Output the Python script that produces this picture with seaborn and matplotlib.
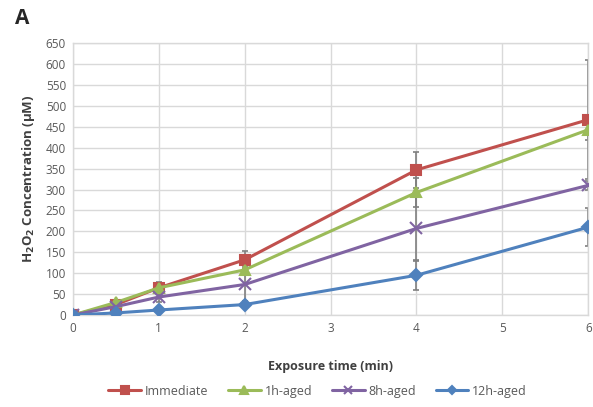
import numpy as np
import pandas as pd
import matplotlib
matplotlib.use("Agg")
import matplotlib.pyplot as plt
import seaborn as sns

# ---- data ----
time_min = [0, 0.5, 1, 2, 4, 6]
immediate = [0, 25, 65, 132, 347, 467]
aged_1h = [0, 30, 65, 108, 293, 443]
aged_8h = [0, 20, 43, 73, 207, 310]
aged_12h = [0, 5, 12, 25, 95, 210]

err_immediate = [0, 8, 15, 22, 43, 143]
err_1h = [0, 5, 10, 10, 35, 25]
err_8h = [0, 5, 12, 40, 75, 10]
err_12h = [0, 3, 5, 8, 35, 45]

series_names = ["Immediate", "1h-aged", "8h-aged", "12h-aged"]
y_ticks = list(range(0, 651, 50))
x_ticks = [0, 1, 2, 3, 4, 5, 6]

values = [immediate, aged_1h, aged_8h, aged_12h]
errors = [err_immediate, err_1h, err_8h, err_12h]
colors = ["#C0504D", "#9BBB59", "#8064A2", "#4F81BD"]
markers = ["s", "^", "x", "D"]
msizes = [7, 7, 8, 6]

sns.set_theme(style="white")
plt.rcParams["font.family"] = ["Open Sans", "DejaVu Sans"]

rows = []
for name, vals in zip(series_names, values):
    for t, v in zip(time_min, vals):
        rows.append({"time": t, "conc": v, "series": name})
df = pd.DataFrame(rows)

fig = plt.figure(figsize=(5.93, 4.07), dpi=100)
ax = fig.add_axes([0.123, 0.226, 0.869, 0.668])

# error bars first (gray)
for vals, errs in zip(values, errors):
    ax.errorbar(time_min, vals, yerr=errs, fmt="none", ecolor="#7F7F7F",
                elinewidth=1.2, capsize=2.5, capthick=1.2, zorder=2)

for name, c, m, ms in zip(series_names, colors, markers, msizes):
    sub = df[df["series"] == name]
    sns.lineplot(data=sub, x="time", y="conc", ax=ax, color=c, marker=m,
                 markersize=ms, markeredgecolor=c, markeredgewidth=1.5,
                 linewidth=2.2, label=name, zorder=3, errorbar=None)

ax.set_xlim(0, 6)
ax.set_ylim(0, 650)
ax.set_xticks(x_ticks)
ax.set_yticks(y_ticks)
ax.grid(True, color="#D9D9D9", linewidth=1)
ax.set_axisbelow(True)
for s in ax.spines.values():
    s.set_color("#D9D9D9")
    s.set_linewidth(1)
ax.tick_params(axis="both", colors="#595959", labelsize=8.5, length=0, pad=5)

ax.set_xlabel("Exposure time (min)", fontsize=9, fontweight="bold", color="#404040", labelpad=18)
ax.set_ylabel(r"H$_\mathbf{2}$O$_\mathbf{2}$ Concentration (μM)", fontsize=9.5,
              fontweight="bold", color="#404040", labelpad=6)

leg = ax.legend(loc="upper center", bbox_to_anchor=(0.475, -0.215), ncol=4, frameon=False,
                fontsize=9, handlelength=2.6, columnspacing=1.6, labelcolor="#595959",
                handletextpad=0.3, markerscale=0.75)

fig.text(0.025, 0.94, "A", fontsize=15, fontweight="bold", color="#262626")

fig.savefig("out.png", dpi=100)
